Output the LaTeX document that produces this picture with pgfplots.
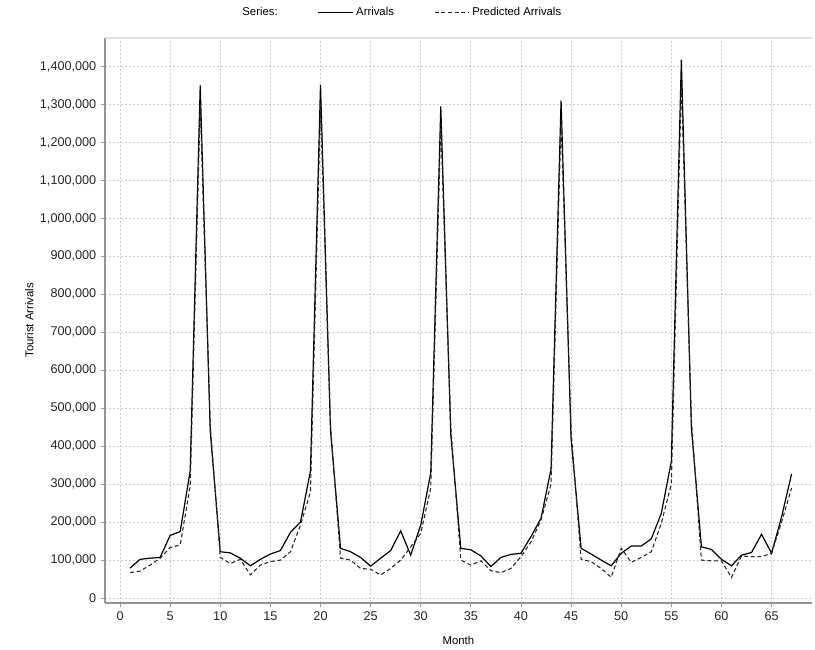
\documentclass[border=0pt]{standalone}
\usepackage{fontspec}
\setmainfont{Liberation Sans}
\usepackage{pgfplots}
\pgfplotsset{compat=1.18}
\usepackage{pgfplotstable}

\pgfplotstableread{
m A P
1 79000 67000
2 102000 71000
3 105000 87000
4 107000 105000
5 165000 133000
6 175000 140000
7 335000 295000
8 1350000 1300000
9 440000 455000
10 122000 107000
11 119000 91000
12 105000 102000
13 85000 61000
14 102000 87000
15 116000 96000
16 125000 100000
17 173000 122000
18 200000 192000
19 335000 280000
20 1352000 1300000
21 440000 455000
22 131000 105000
23 122000 100000
24 107000 78000
25 84000 76000
26 105000 61000
27 125000 78000
28 177000 100000
29 113000 135000
30 192000 170000
31 330000 290000
32 1295000 1250000
33 430000 450000
34 131000 100000
35 127000 87000
36 111000 98000
37 83000 72000
38 107000 67000
39 115000 78000
40 118000 109000
41 162000 148000
42 210000 206000
43 340000 300000
44 1310000 1260000
45 420000 440000
46 131000 102000
47 116000 96000
48 100000 78000
49 85000 55000
50 118000 131000
51 137000 94000
52 137000 107000
53 156000 122000
54 223000 197000
55 360000 300000
56 1418000 1360000
57 450000 470000
58 135000 100000
59 128000 98000
60 102000 98000
61 85000 54000
62 113000 111000
63 120000 109000
64 168000 109000
65 118000 118000
66 214000 200000
67 327000 290000
}\arrivals

\begin{document}
\begin{tikzpicture}[x=1pt,y=1pt]
\begin{axis}[
    at={(0,0)}, anchor=south west,
    scale only axis,
    width=530pt, height=424pt,
    xmin=-1.5, xmax=69,
    ymin=-13000, ymax=1476000,
    scaled y ticks=false,
    xtick={0,5,10,15,20,25,30,35,40,45,50,55,60,65},
    xticklabels={0,5,10,15,20,25,30,35,40,45,50,55,60,65},
    ytick={0,100000,200000,300000,400000,500000,600000,700000,800000,900000,1000000,1100000,1200000,1300000,1400000},
    yticklabels={0,{100,000},{200,000},{300,000},{400,000},{500,000},{600,000},{700,000},{800,000},{900,000},{1,000,000},{1,100,000},{1,200,000},{1,300,000},{1,400,000}},
    axis x line*=bottom,
    axis y line*=left,
    axis line style={draw=gray!85, line width=1.5pt, -},
    tick align=outside,
    major tick length=3pt,
    tick style={gray!80, line width=0.6pt},
    ticklabel style={font=\fontsize{9.5}{11}\selectfont, text=black!85},
    xmajorgrids=true, ymajorgrids=true,
    grid style={gray!40, dash pattern=on 1.5pt off 1.5pt, line width=0.6pt},
    xlabel={Month},
    ylabel={Tourist Arrivals},
    label style={font=\fontsize{8.5}{10}\selectfont},
    xlabel style={yshift=-5pt},
    ylabel style={yshift=-2pt},
    legend columns=3,
    legend image code/.code={\draw[#1] (0pt,0pt) -- (26pt,0pt);},
    legend style={draw=none, fill=none, at={(axis description cs:0.42,1.044)}, anchor=center,
        font=\fontsize{8.5}{10}\selectfont, /tikz/every even column/.append style={column sep=28pt}},
    legend cell align=left,
    clip=false,
]
\draw[gray!25, line width=1.5pt] (rel axis cs:0,1) -- (rel axis cs:1,1);
\addlegendimage{empty legend}
\addlegendentry{Series:}
\addplot[black, line width=0.9pt] table[x=m, y=A] {\arrivals};
\addlegendentry{Arrivals}
\addplot[black!85, line width=0.8pt, dash pattern=on 3pt off 2pt] table[x=m, y=P] {\arrivals};
\addlegendentry{Predicted Arrivals}
\end{axis}
\useasboundingbox (-78.75pt,-35.25pt) rectangle (532.5pt,452.25pt);
\end{tikzpicture}
\end{document}
